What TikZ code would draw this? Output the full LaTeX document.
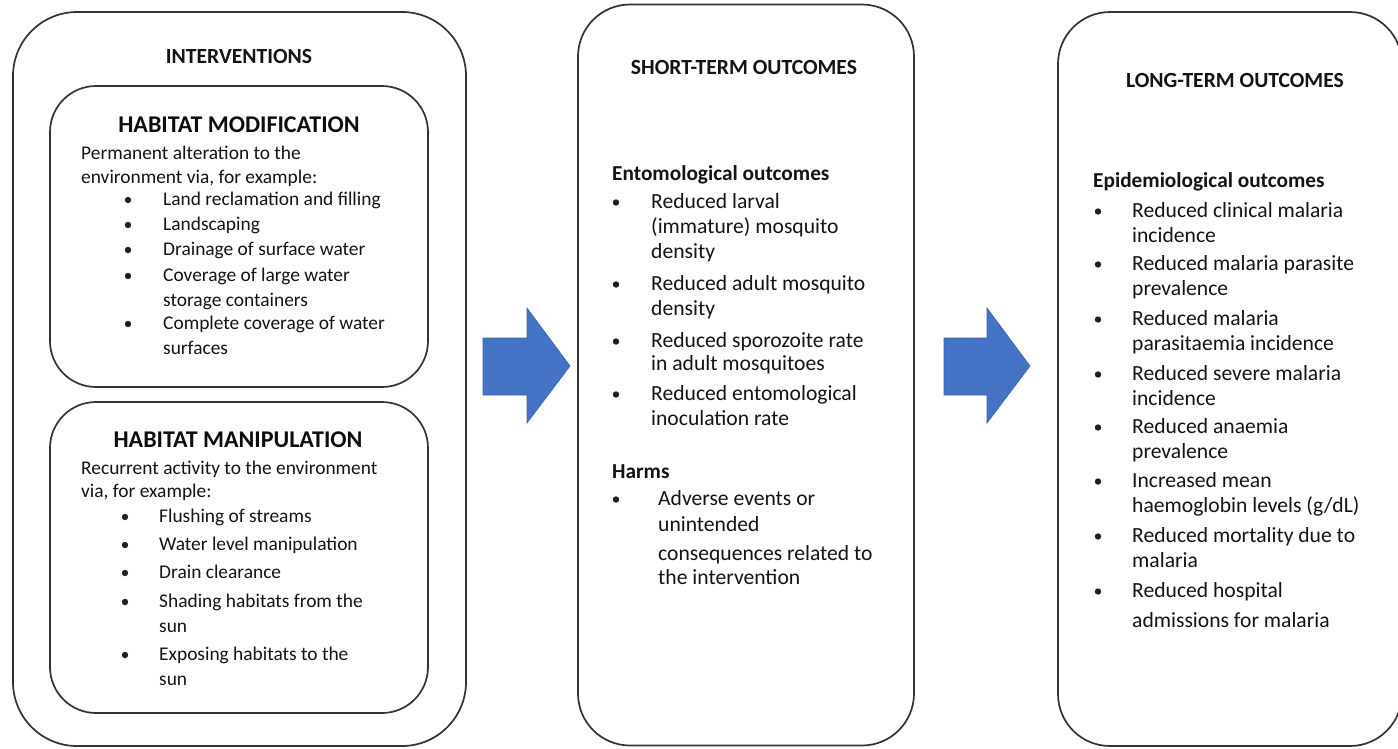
\documentclass[tikz,border=0pt]{standalone}
\usepackage{fontspec}
\setmainfont{Carlito}
\begin{document}
\begin{tikzpicture}[x=1pt,y=-1pt,
  box/.style={draw=black!80, line width=1.7pt, rectangle, inner sep=0pt},
  bodyl/.style={inner sep=0pt, anchor=base west, font=\fontsize{19.4}{22}\selectfont, text=black!92},
  body/.style={inner sep=0pt, anchor=base west, font=\fontsize{21.6}{24}\selectfont, text=black!92},
  bodyb/.style={body, font=\fontsize{21.3}{24}\selectfont\bfseries},
  ttl/.style={inner sep=0pt, anchor=center, font=\fontsize{21.6}{24}\selectfont\bfseries, text=black!92},
  bigttl/.style={inner sep=0pt, anchor=center, font=\fontsize{24}{26}\selectfont\bfseries, text=black!95},
  bul/.style={circle, fill=black!88, inner sep=0pt, minimum size=6.4pt},
  barrow/.style={fill=blue4, draw=blue4d, line width=0.6pt, line join=miter}
]
\definecolor{blue4}{HTML}{4472C4}
\definecolor{blue4d}{HTML}{3A62AE}
\fill[white] (0,0) rectangle (1398,748);
\useasboundingbox (0,0) rectangle (1398,748);
\clip (0,0) rectangle (1398,748);

% boxes
\node[box, rounded corners=64pt, minimum width=453pt, minimum height=734pt] (interv) at (239.5,379) {};
\node[box, rounded corners=46pt, minimum width=378pt, minimum height=301pt] (modif) at (239,236.5) {};
\node[box, rounded corners=46pt, minimum width=378pt, minimum height=311pt] (manip) at (239,557.5) {};
\node[box, rounded corners=52pt, minimum width=336pt, minimum height=741pt] (short) at (746,375) {};
\node[box, rounded corners=52pt, minimum width=344pt, minimum height=734pt] (long) at (1230,379) {};

% block arrows
\draw[barrow] (483,338) -- (527,338) -- (527,308) -- (570,366) -- (527,423) -- (527,395) -- (483,395) -- cycle;
\draw[barrow] (944,338) -- (987,338) -- (987,308) -- (1030,366) -- (987,423) -- (987,395) -- (944,395) -- cycle;

% titles
\node[ttl] (t1) at (239,56) {INTERVENTIONS};
\node[bigttl] (t2) at (239,125) {HABITAT MODIFICATION};
\node[bigttl] (t3) at (238,440) {HABITAT MANIPULATION};
\node[ttl] (t4) at (744,67) {SHORT-TERM OUTCOMES};
\node[ttl] (t5) at (1235,80) {LONG-TERM OUTCOMES};

% habitat modification
\node[bodyl] (m1) at (81,159) {Permanent alteration to the};
\node[bodyl] (m2) at (81,183) {environment via, for example:};
\foreach \yy/\tx [count=\i] in {205/{Land reclamation and filling},230/{Landscaping},255/{Drainage of surface water},281/{Coverage of large water},306/{storage containers},329/{Complete coverage of water},354/{surfaces}}
  {\node[bodyl] (ma\i) at (163,\yy) {\tx};}
\foreach \yy [count=\i] in {205,230,255,281,329}
  {\node[bul] (mb\i) at (128,\yy-5) {};}

% habitat manipulation
\node[bodyl] (p1) at (81,474) {Recurrent activity to the environment};
\node[bodyl] (p2) at (81,497) {via, for example:};
\foreach \yy/\tx [count=\i] in {522/{Flushing of streams},550/{Water level manipulation},578/{Drain clearance},607/{Shading habitats from the},632/{sun},660/{Exposing habitats to the},685/{sun}}
  {\node[bodyl] (pa\i) at (159,\yy) {\tx};}
\foreach \yy [count=\i] in {522,550,578,607,660}
  {\node[bul] (pb\i) at (125,\yy-5) {};}

% short-term outcomes
\node[bodyb] (e0) at (612,180) {Entomological outcomes};
\foreach \yy/\tx [count=\i] in {208/{Reduced larval},233/{(immature) mosquito},258/{density},290/{Reduced adult mosquito},315/{density},347/{Reduced sporozoite rate},370/{in adult mosquitoes},400/{Reduced entomological},425/{inoculation rate}}
  {\node[body] (ea\i) at (651,\yy) {\tx};}
\foreach \yy [count=\i] in {208,290,347,400}
  {\node[bul] (eb\i) at (616,\yy-5.5) {};}
\node[bodyb] (h0) at (612,478) {Harms};
\foreach \yy/\tx [count=\i] in {505/{Adverse events or},531/{unintended},560/{consequences related to},584/{the intervention}}
  {\node[body] (ha\i) at (658,\yy) {\tx};}
\node[bul] (hb1) at (616,505-5.5) {};

% long-term outcomes
\node[bodyb] (l0) at (1093,187) {Epidemiological outcomes};
\foreach \yy/\tx [count=\i] in {217/{Reduced clinical malaria},242/{incidence},270/{Reduced malaria parasite},295/{prevalence},325/{Reduced malaria},350/{parasitaemia incidence},380/{Reduced severe malaria},405/{incidence},433/{Reduced anaemia},458/{prevalence},487/{Increased mean},512/{haemoglobin levels (g/dL)},542/{Reduced mortality due to},567/{malaria},597/{Reduced hospital},627/{admissions for malaria}}
  {\node[body] (la\i) at (1132,\yy) {\tx};}
\foreach \yy [count=\i] in {217,270,325,380,433,487,542,597}
  {\node[bul] (lb\i) at (1098,\yy-5.5) {};}
\end{tikzpicture}
\end{document}
